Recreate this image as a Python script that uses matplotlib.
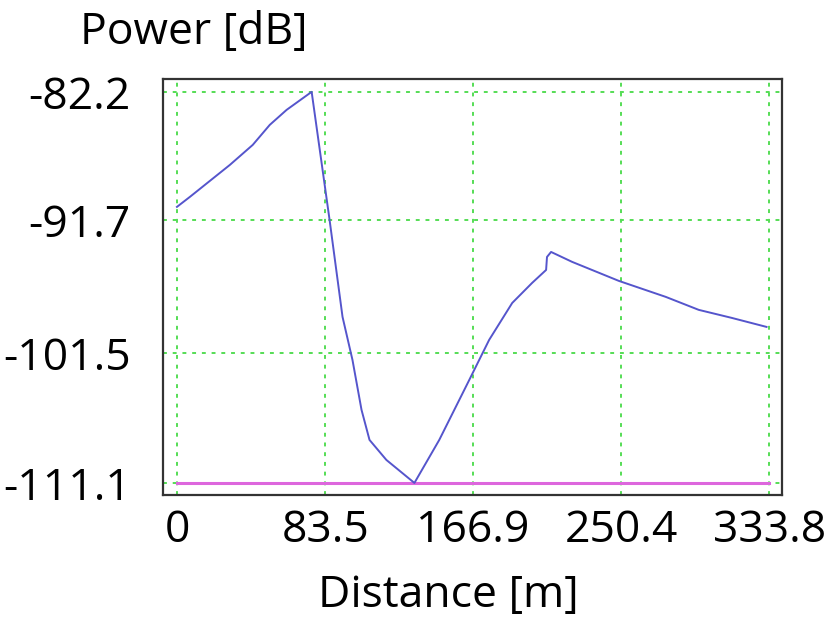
import matplotlib
matplotlib.use("Agg")
import matplotlib.pyplot as plt

# distance [m] and received power [dB]
distance = [0, 7.3, 29.8, 42.7, 52.3, 61.8, 75.9, 86.0, 93.3, 98.9, 104.0,
            108.5, 118.0, 133.8, 147.8, 164.7, 175.9, 188.9, 200.1, 208.0,
            208.5, 210.8, 222.6, 249.0, 275.4, 294.0, 312.5, 332.2]
power = [-90.7, -89.96, -87.6, -86.12, -84.64, -83.53, -82.2, -91.66, -98.83,
         -102.01, -105.7, -107.92, -109.4, -111.1, -107.92, -103.49, -100.53,
         -97.8, -96.32, -95.36, -94.4, -94.03, -94.76, -96.17, -97.35, -98.31,
         -98.9, -99.57]

threshold_x = [0, 333.8]
threshold = [-111.1, -111.1]

xticks = [0, 83.5, 166.9, 250.4, 333.8]
yticks = [-82.2, -91.7, -101.5, -111.1]

plt.rcParams['font.family'] = ['Open Sans', 'DejaVu Sans']

fig = plt.figure(figsize=(8.27, 6.22), dpi=100)
ax = fig.add_axes([0.197, 0.2042, 0.749, 0.669])

ax.plot(threshold_x, threshold, color='#dd66dd', lw=2.2, zorder=2)
ax.plot(distance, power, color='#5555cc', lw=1.4, zorder=3)

ax.set_xlim(-7.9, 341.1)
ax.set_ylim(-111.99, -81.24)
ax.set_xticks(xticks)
ax.set_xticklabels(['0', '83.5', '166.9', '250.4', '333.8'])
ax.set_yticks(yticks)
ax.set_yticklabels(['-82.2', '-91.7', '-101.5', '-111.1'])
ax.tick_params(axis='y', length=0, pad=23, labelsize=32)
ax.tick_params(axis='x', length=0, pad=10, labelsize=32)

ax.grid(True, color='#55dd55', ls=(0, (2, 3)), lw=1.4)
for s in ax.spines.values():
    s.set_color('#333333')
    s.set_linewidth(1.6)

fig.text(80 / 827, 1 - 44 / 622, 'Power [dB]', fontsize=32, va='baseline')
fig.text(448 / 827, 1 - 607 / 622, 'Distance [m]', fontsize=32,
         ha='center', va='baseline')

fig.savefig('out.png', dpi=100)
